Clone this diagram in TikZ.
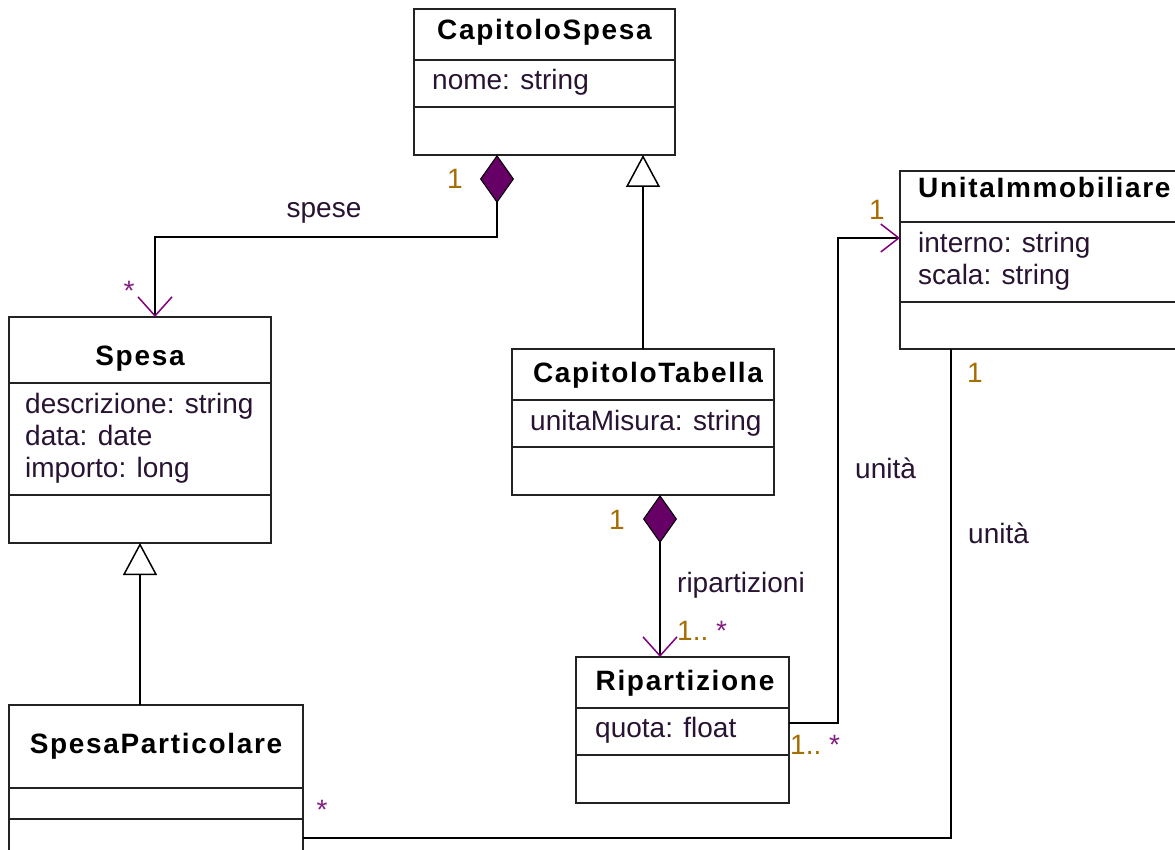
\documentclass[tikz,border=0pt]{standalone}
\usepackage{fontspec}
\setmainfont{Liberation Sans}
\newfontfamily\titlefont{Liberation Sans}[LetterSpace=6]
\usetikzlibrary{arrows.meta}

\definecolor{mult}{RGB}{165,110,0}
\definecolor{star}{RGB}{130,30,130}
\definecolor{ink}{RGB}{40,20,50}
\definecolor{barb}{RGB}{128,0,128}
\definecolor{diamondfill}{RGB}{102,0,102}
\definecolor{border}{RGB}{35,35,35}

\tikzset{
  classbox/.style={draw=border, line width=2pt, fill=white, rectangle, inner sep=0pt, outer sep=0pt},
  sepline/.style={draw=border, line width=2pt},
  txt/.style={font=\fontsize{28}{32}\selectfont, inner sep=0pt},
  classname/.style={font=\titlefont\bfseries\fontsize{28}{32}\selectfont, inner sep=0pt, anchor=base, text=black},
  attr/.style={txt, anchor=base west, text=ink},
  role/.style={txt, text=ink},
  multi/.style={txt, anchor=base, text=mult},
  many/.style={txt, anchor=base, text=star},
  link/.style={draw=black, line width=2pt},
  compo/.style={link, {Diamond[length=48pt,width=34pt,fill=diamondfill,color=black,line width=1pt]}-{Straight Barb[length=19pt,width=34pt,color=barb,line width=1.5pt]}},
  assoc/.style={link, -{Straight Barb[length=18pt,width=28pt,color=barb,line width=1.5pt]}},
  gen/.style={link, -{Triangle[length=32pt,width=34pt,fill=white,line width=1.5pt]}},
}

% class box: name, left, top, right, bottom, first separator, second separator
\newcommand\umlclass[7]{%
  \node[classbox, minimum width={#4-#2}, minimum height={#5-#3}] (#1) at ({(#2+#4)/2},{(#3+#5)/2}) {};
  \draw[sepline] (#2,#6) -- (#4,#6);
  \draw[sepline] (#2,#7) -- (#4,#7);
}

\begin{document}
\begin{tikzpicture}[x=1pt, y=-1pt]
\useasboundingbox (0,0) rectangle (1175,850);
\fill[white] (0,0) rectangle (1175,850);
\clip (0,0) rectangle (1175,850);

% classes
\umlclass{cs}{414}{9}{675}{155}{60}{107}
\node[classname] (cs-name) at (544.5,40) {CapitoloSpesa};
\node[attr] (cs-a1) at (432,90) {nome: string};

\umlclass{sp}{9}{317}{271}{543}{383}{495}
\node[classname] (sp-name) at (140,365) {Spesa};
\node[attr] (sp-a1) at (25,413) {descrizione: string};
\node[attr] (sp-a2) at (25,445) {data: date};
\node[attr] (sp-a3) at (25,477) {importo: long};

\umlclass{ct}{512}{349}{774}{495}{400}{447}
\node[classname] (ct-name) at (648,382) {CapitoloTabella};
\node[attr] (ct-a1) at (530,430) {unitaMisura: string};

\umlclass{rp}{576}{657}{789}{803}{708}{755}
\node[classname] (rp-name) at (685,690) {Ripartizione};
\node[attr] (rp-a1) at (595,737) {quota: float};

\umlclass{ui}{900}{171}{1190}{349}{222}{302}
\node[classname, anchor=base west] (ui-name) at (918,198) {UnitaImmobiliare};
\node[attr] (ui-a1) at (918,253) {interno: string};
\node[attr] (ui-a2) at (918,284) {scala: string};

\umlclass{spp}{9}{705}{303}{870}{788}{819}
\node[classname] (spp-name) at (156,753) {SpesaParticolare};

% generalizations
\draw[gen] (ct.north) -- (ct.north |- cs.south);
\draw[gen] (spp.north -| sp.south) -- (sp.south);

% compositions
\draw[compo] ([xshift=-47.5pt]cs.south) -- ++(0,82) -| ([xshift=15pt]sp.north);
\draw[compo] ([xshift=17pt]ct.south) -- ([xshift=17pt]ct.south |- rp.north);

% associations
\draw[assoc] ([yshift=7pt]rp.east) -- ++(49,0) |- ([yshift=22pt]ui.west);
\draw[link] ([yshift=32pt]spp.south east) -| ([xshift=51pt]ui.south west);

% role names and multiplicities
\node[multi] (m-cs) at (455,189) {1};
\node[role, anchor=base] (r-spese) at (324,218) {spese};
\node[many] (s-sp) at (129,301) {*};

\node[multi] (m-ct) at (617,529) {1};
\node[role, anchor=base west] (r-rip) at (677,592) {ripartizioni};
\node[txt, anchor=base west] (m-rp) at (677,640) {\color{mult}1..\ \color{star}*};

\node[multi] (m-ui1) at (877,220) {1};
\node[role, anchor=base west] (r-unita1) at (855,478) {unità};
\node[txt, anchor=base west] (m-rp2) at (790,754) {\color{mult}1..\ \color{star}*};

\node[multi] (m-ui2) at (975,382) {1};
\node[role, anchor=base west] (r-unita2) at (968,543) {unità};
\node[many] (s-spp) at (322,819) {*};
\end{tikzpicture}
\end{document}
